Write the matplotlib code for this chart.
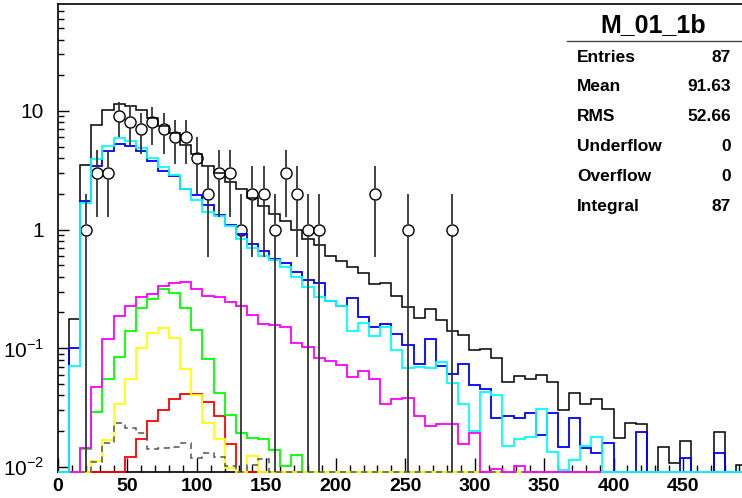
import numpy as np
import matplotlib.pyplot as plt
from matplotlib.ticker import FixedLocator, MultipleLocator, NullFormatter
from matplotlib.lines import Line2D

plt.rcParams['font.family'] = ['Liberation Sans', 'DejaVu Sans']
plt.rcParams['mathtext.fontset'] = 'custom'
plt.rcParams['mathtext.rm'] = 'Liberation Sans'
plt.rcParams['mathtext.bf'] = 'Liberation Sans:bold'

# --- histogram contents, 62 bins of width 8 from 0 to 496 ---
bin_edges = np.arange(0, 497, 8)

total = [0, 0.175, 3.48, 7.55, 10.2, 11.5, 11.0, 10.1, 8.7, 7.4,
         6.5, 5.2, 4.3, 3.44, 3.02, 2.52, 2.18, 1.86, 1.58, 1.35,
         1.18, 0.99, 0.83, 0.74, 0.60, 0.54, 0.48, 0.43, 0.347, 0.358,
         0.276, 0.221, 0.18, 0.215, 0.173, 0.139, 0.128, 0.096, 0.099, 0.083,
         0.052, 0.058, 0.055, 0.059, 0.052, 0.030, 0.042, 0.034, 0.037, 0.031,
         0.0174, 0.0236, 0.0229, 0, 0.0146, 0.0108, 0.0164, 0, 0, 0.0198,
         0, 0.0103]

blue = [0, 0.10, 1.74, 3.44, 4.61, 5.25, 5.02, 4.61, 3.79, 3.12,
        2.83, 2.21, 1.95, 1.60, 1.34, 1.09, 0.91, 0.76, 0.655, 0.568,
        0.52, 0.44, 0.377, 0.358, 0.252, 0.228, 0.267, 0.185, 0.150, 0.159,
        0.131, 0.106, 0.074, 0.119, 0.071, 0.061, 0.074, 0.049, 0.045, 0.026,
        0.027, 0.026, 0.0285, 0.0185, 0.0285, 0.0146, 0.026, 0.0143, 0.0132, 0.016,
        0, 0, 0.0198, 0, 0, 0, 0.0118, 0, 0, 0.0132,
        0, 0]

cyan = [0, 0.071, 1.68, 3.92, 5.02, 5.88, 5.6, 4.86, 4.05, 3.37,
        2.87, 2.18, 1.79, 1.42, 1.31, 1.08, 0.83, 0.70, 0.60, 0.55,
        0.483, 0.40, 0.327, 0.272, 0.25, 0.226, 0.139, 0.163, 0.126, 0.152,
        0.097, 0.068, 0.069, 0.068, 0.077, 0.051, 0.034, 0.020, 0.043, 0.040,
        0.015, 0.017, 0.018, 0.031, 0.0133, 0.0094, 0.0115, 0.015, 0.018, 0,
        0, 0, 0, 0, 0, 0, 0, 0, 0, 0,
        0, 0]

magenta = [0, 0, 0.0144, 0.047, 0.119, 0.187, 0.227, 0.269, 0.285, 0.337,
           0.353, 0.365, 0.314, 0.276, 0.27, 0.247, 0.229, 0.19, 0.159, 0.156,
           0.152, 0.11, 0.103, 0.083, 0.078, 0.072, 0.057, 0.064, 0.055, 0.034,
           0.037, 0.038, 0.027, 0.022, 0.023, 0.023, 0.0156, 0.0193, 0, 0.0095,
           0, 0.0102, 0, 0, 0, 0, 0, 0, 0, 0,
           0, 0, 0, 0, 0, 0, 0, 0, 0, 0,
           0, 0]

green = [0, 0, 0.0141, 0.029, 0.055, 0.084, 0.14, 0.217, 0.259, 0.314,
         0.29, 0.217, 0.142, 0.081, 0.042, 0.0274, 0.0192, 0.0174, 0.017, 0.0139,
         0.0102, 0.0126] + [0] * 40

yellow = [0, 0, 0, 0.0112, 0.0168, 0.034, 0.055, 0.101, 0.135, 0.149,
          0.122, 0.067, 0.040, 0.0233, 0.017, 0.0098, 0, 0.0124] + [0] * 44

red = [0, 0, 0, 0, 0, 0, 0.012, 0.017, 0.0245, 0.030,
       0.037, 0.041, 0.041, 0.035, 0.027, 0.0156] + [0] * 46

grey = [0, 0, 0, 0.011, 0.0158, 0.0233, 0.0212, 0.0192, 0.0141, 0.0145,
        0.0146, 0.0158, 0.0119, 0.0131, 0.0122, 0.0102, 0, 0.0104, 0.0116] + [0] * 43

data_counts = [0, 0, 1, 3, 3, 9, 8, 7, 8, 7,
               6, 6, 4, 2, 3, 3, 1, 2, 2, 1,
               3, 2, 1, 1, 0, 0, 0, 0, 2, 0,
               0, 1, 0, 0, 0, 1] + [0] * 26

stats_title = "M_01_1b"
stats_rows = [("Entries", "87"), ("Mean", "91.63"), ("RMS", "52.66"),
              ("Underflow", "0"), ("Overflow", "0"), ("Integral", "87")]

W, H = 742, 498
ymin, ymax = 0.00904, 79.8

fig = plt.figure(figsize=(W / 100, H / 100), dpi=100)
ax = fig.add_axes([58 / W, 26 / H, 685 / W, 468 / H])
ax.set_yscale('log')
ax.set_xlim(0, 685 / 1.389)
ax.set_ylim(ymin, ymax)

# data points with poisson errors (drawn first, hist lines go over them)
centers = 0.5 * (bin_edges[:-1] + bin_edges[1:])
n = np.array(data_counts, dtype=float)
sel = n > 0
xc, yc = centers[sel], n[sel]
err = np.sqrt(yc)
gap = 1.113
lo = np.maximum(yc - err, ymin)
ax.vlines(xc, lo, yc / gap, color='#333333', lw=1.3, zorder=4, clip_on=False)
ax.vlines(xc, yc * gap, yc + err, color='#333333', lw=1.3, zorder=4)
ax.plot(xc, yc, 'o', ms=8, mfc='white', mec='black', mew=1.0, zorder=2)

hists = [
    (total, 'black', '-', 1.1),
    (blue, '#0000ff', '-', 1.3),
    (red, '#ff0000', '-', 1.3),
    (green, '#00ff00', '-', 1.3),
    (yellow, '#ffff00', '-', 1.3),
    (grey, '#555555', (0, (4, 3)), 1.1),
    (magenta, '#ff00ff', '-', 1.3),
    (cyan, '#00ffff', '-', 1.3),
]
for vals, col, ls, lw in hists:
    v = np.maximum(np.array(vals, dtype=float), ymin)
    ax.stairs(v, bin_edges, baseline=None, color=col, ls=ls, lw=lw,
              zorder=3, clip_on=False)

# axes style, ROOT-like
for s in ['left', 'bottom', 'top']:
    ax.spines[s].set_linewidth(1.2)
ax.spines['right'].set_visible(False)

ax.xaxis.set_major_locator(MultipleLocator(50))
ax.xaxis.set_minor_locator(MultipleLocator(10))
ax.tick_params(axis='x', which='major', direction='in', length=10, width=1,
               pad=4, labelsize=14)
ax.tick_params(axis='x', which='minor', direction='in', length=5, width=1)
for lab in ax.get_xticklabels():
    lab.set_fontweight('bold')

ax.yaxis.set_major_locator(FixedLocator([0.01, 0.1, 1, 10]))
ax.set_yticklabels([r'$10^{-2}$', r'$10^{-1}$', '1', '10'])
minors = [m * 10.0 ** d for d in range(-2, 2) for m in range(2, 10)]
ax.yaxis.set_minor_locator(FixedLocator(minors))
ax.yaxis.set_minor_formatter(NullFormatter())
ax.tick_params(axis='y', which='major', direction='in', length=8, width=1,
               pad=10, labelsize=15)
ax.tick_params(axis='y', which='minor', direction='in', length=4, width=1)

# stats box
fig.text(653 / W, 1 - 25 / H, stats_title, ha='center', va='center',
         fontsize=18, fontweight='bold')
fig.add_artist(Line2D([567 / W, 1], [1 - 41 / H, 1 - 41 / H],
                      color='#444444', lw=1.0))
for i, (k, val) in enumerate(stats_rows):
    yy = 1 - (57 + 29.8 * i) / H
    fig.text(577 / W, yy, k, ha='left', va='center', fontsize=12.5,
             fontweight='bold')
    fig.text(731 / W, yy, val, ha='right', va='center', fontsize=12.5,
             fontweight='bold')

fig.savefig('out.png', dpi=100)
